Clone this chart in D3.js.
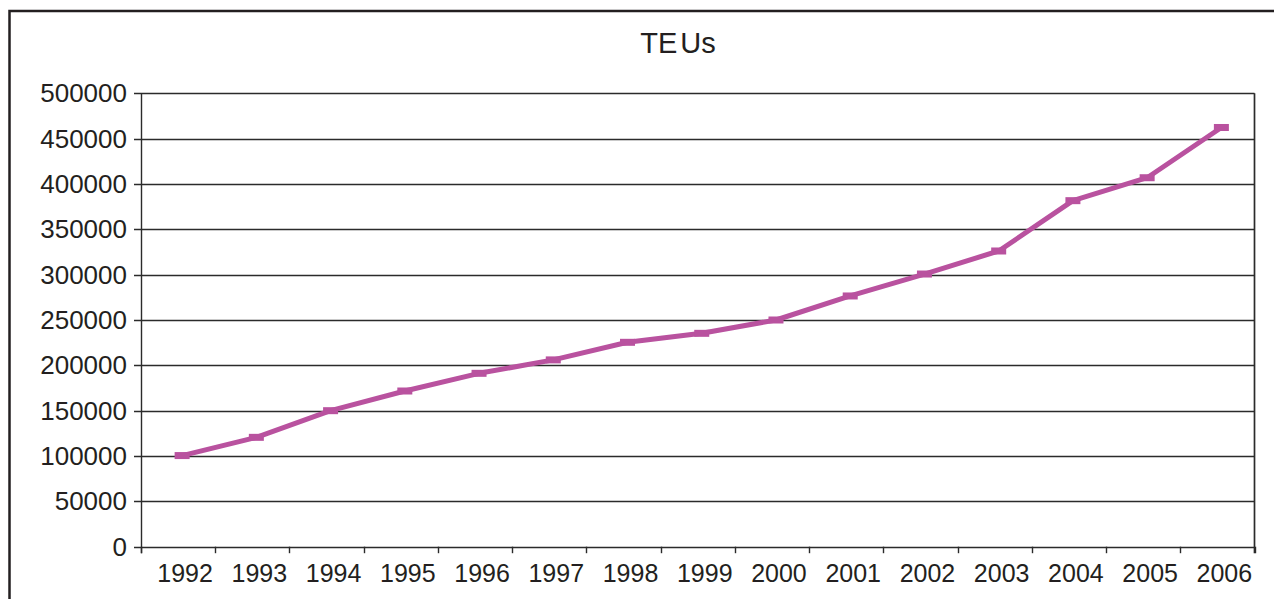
<!DOCTYPE html>
<html>
<head>
<meta charset="utf-8">
<script src="https://cdn.jsdelivr.net/npm/d3@7/dist/d3.min.js"></script>
<style>
  html, body { margin: 0; padding: 0; background: #fff; }
  svg { display: block; }
  text { font-family: "Liberation Sans", Arial, sans-serif; fill: #231f20; }
</style>
</head>
<body>
<svg id="chart" width="1274" height="599"></svg>
<script>
// Container throughput per year (TEUs)
const years = ["1992","1993","1994","1995","1996","1997","1998","1999","2000","2001","2002","2003","2004","2005","2006"];
const teus = [100500, 120600, 150000, 171700, 191200, 206000, 225400, 235300, 250000, 276500, 300700, 326100, 381600, 406900, 462300];
const yTicks = [0, 50000, 100000, 150000, 200000, 250000, 300000, 350000, 400000, 450000, 500000];
const chartTitle = "TEUs";

const svg = d3.select("#chart");
const plot = { left: 141, right: 1254.5, top: 93.3, bottom: 546.7 };
const axisColor = "#2b2b2b";

// outer frame (runs past the right and bottom edges)
svg.append("rect")
  .attr("x", 9.5).attr("y", 11).attr("width", 1270).attr("height", 600)
  .attr("fill", "none").attr("stroke", "#231f20").attr("stroke-width", 2.5);

const x = d3.scaleBand().domain(years).range([plot.left, plot.right]).padding(0);
const y = d3.scaleLinear().domain([0, 500000]).range([plot.bottom, plot.top]);

// horizontal gridlines with left tick marks
svg.append("g").selectAll("line").data(yTicks).join("line")
  .attr("x1", plot.left - 7).attr("x2", plot.right)
  .attr("y1", d => Math.round(y(d)) + 0.5).attr("y2", d => Math.round(y(d)) + 0.5)
  .attr("stroke", axisColor).attr("stroke-width", 1.4);

// y tick labels
svg.append("g").selectAll("text").data(yTicks).join("text")
  .attr("x", 127).attr("y", d => y(d))
  .attr("dy", "0.35em")
  .attr("text-anchor", "end")
  .attr("font-size", 26)
  .text(d => d3.format("d")(d));

// left axis line
svg.append("line")
  .attr("x1", plot.left + 0.5).attr("x2", plot.left + 0.5)
  .attr("y1", plot.top).attr("y2", plot.bottom + 6.5)
  .attr("stroke", axisColor).attr("stroke-width", 1.4);

// right plot border
svg.append("line")
  .attr("x1", plot.right).attr("x2", plot.right)
  .attr("y1", plot.top).attr("y2", plot.bottom + 6.5)
  .attr("stroke", axisColor).attr("stroke-width", 1.7);

// category boundary ticks below the x axis
const bounds = years.map(d => x(d)).concat([plot.right]);
svg.append("g").selectAll("line").data(bounds).join("line")
  .attr("x1", d => Math.round(d) + 0.5).attr("x2", d => Math.round(d) + 0.5)
  .attr("y1", plot.bottom).attr("y2", plot.bottom + 6.5)
  .attr("stroke", axisColor).attr("stroke-width", 1.4);

// x tick labels
svg.append("g").selectAll("text").data(years).join("text")
  .attr("x", d => x(d) + x.bandwidth() / 2 + 7)
  .attr("y", 582)
  .attr("text-anchor", "middle")
  .attr("font-size", 25)
  .text(d => d);

// title
svg.append("text")
  .attr("x", 678).attr("y", 53)
  .attr("text-anchor", "middle")
  .attr("font-size", 29)
  .call(t => {
    t.append("tspan").text(chartTitle.slice(0, 2));
    t.append("tspan").attr("dx", 3).text(chartTitle.slice(2));
  });

// series line
const cx = d => x(d) + x.bandwidth() / 2 + 4;
const color = "#b9529f";
const pts = years.map((yr, i) => ({ yr, v: teus[i] }));
svg.append("path")
  .datum(pts)
  .attr("fill", "none")
  .attr("stroke", color)
  .attr("stroke-width", 5)
  .attr("stroke-linejoin", "round")
  .attr("d", d3.line().x(d => cx(d.yr)).y(d => y(d.v)));

// dash markers
svg.append("g").selectAll("rect").data(pts).join("rect")
  .attr("x", d => cx(d.yr) - 7.5)
  .attr("y", d => y(d.v) - 3.5)
  .attr("width", 15).attr("height", 7)
  .attr("fill", color);
</script>
</body>
</html>
